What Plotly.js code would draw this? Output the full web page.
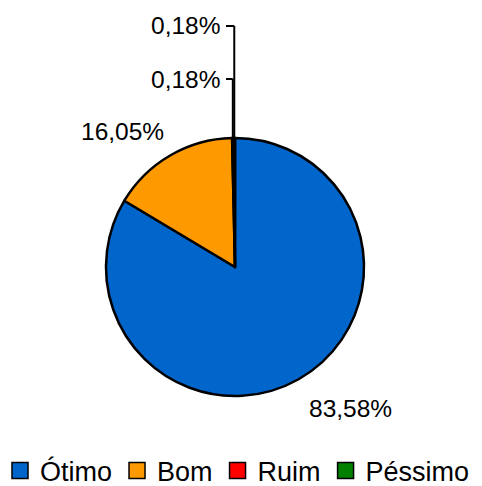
<!DOCTYPE html>
<html>
<head>
<meta charset="utf-8">
<script src="https://cdn.plot.ly/plotly-3.0.1.min.js"></script>
<style>html,body{margin:0;padding:0;background:#fff;}#chart{width:482px;height:486px;}</style>
</head>
<body>
<div id="chart"></div>
<script>
const categories = ['Ótimo', 'Bom', 'Ruim', 'Péssimo'];
const values = [83.58, 16.05, 0.18, 0.18];
const colors = ['#0066CC', '#FF9900', '#FF0000', '#008000'];

const W = 482, H = 486;
const T = 138, S = 258;           // plot area top and height
const PL = 106;                   // pie left edge (px)
const px = x => x / W;
const py = y => (T + S - y) / S;
const fmt = v => v.toFixed(2).replace('.', ',') + '%';
const FONT = 'Liberation Sans, Arial, sans-serif';

const total = values.reduce((a, b) => a + b, 0);
const mids = [];
let acc = 0;
values.forEach(v => { const a = v / total * 360; mids.push(acc + a / 2); acc += a; });

const traces = [{
  type: 'pie',
  labels: categories,
  values: values,
  sort: false,
  direction: 'clockwise',
  rotation: 0,
  textinfo: 'none',
  hoverinfo: 'label+percent',
  showlegend: false,
  marker: { colors: colors, line: { color: '#000', width: 2.5 } },
  domain: { x: [px(PL), px(PL + S)], y: [0, 1] }
}];
categories.forEach((c, i) => {
  traces.push({
    type: 'scatter', mode: 'markers', x: [null], y: [null], name: c,
    marker: { symbol: 'square', size: 16, color: colors[i], line: { color: '#000', width: 1.5 } },
    hoverinfo: 'skip'
  });
});

const labelPos = [
  { x: 350, y: 408, anchor: 'center' },
  { x: 123, y: 131, anchor: 'center' },
  { x: 222, y: 79, anchor: 'right', lineY: 79 },
  { x: 222, y: 26, anchor: 'right', lineY: 26 }
];
const annotations = values.map((v, i) => ({
  text: fmt(v), xref: 'paper', yref: 'paper',
  x: px(labelPos[i].x), y: py(labelPos[i].y),
  xanchor: labelPos[i].anchor, yanchor: 'middle', showarrow: false,
  font: { family: FONT, size: 24.5, color: '#000' }
}));

const cx = PL + S / 2, cy = T + S / 2, R = S / 2;
const shapes = [];
[2, 3].forEach(i => {
  const th = mids[i] * Math.PI / 180;
  const x0 = cx + R * Math.sin(th), y0 = cy - R * Math.cos(th);
  const yl = labelPos[i].lineY;
  shapes.push({ type: 'line', xref: 'paper', yref: 'paper', x0: px(x0), y0: py(y0), x1: px(x0), y1: py(yl), line: { color: '#000', width: 2 } });
  shapes.push({ type: 'line', xref: 'paper', yref: 'paper', x0: px(x0), y0: py(yl), x1: px(226), y1: py(yl), line: { color: '#000', width: 2 } });
});

const layout = {
  width: W, height: H,
  margin: { l: 0, r: 0, t: T, b: H - T - S, pad: 0, autoexpand: false },
  paper_bgcolor: '#fff', plot_bgcolor: '#fff',
  xaxis: { visible: false }, yaxis: { visible: false },
  showlegend: true,
  legend: {
    orientation: 'h', x: px(0), xanchor: 'left', y: py(471), yanchor: 'middle',
    font: { family: FONT, size: 27, color: '#000' }, itemgap: 0, itemwidth: 30,
    bgcolor: 'rgba(0,0,0,0)'
  },
  annotations: annotations,
  shapes: shapes,
  font: { family: FONT }
};

Plotly.newPlot('chart', traces, layout, { displayModeBar: false, staticPlot: true });
</script>
</body>
</html>
